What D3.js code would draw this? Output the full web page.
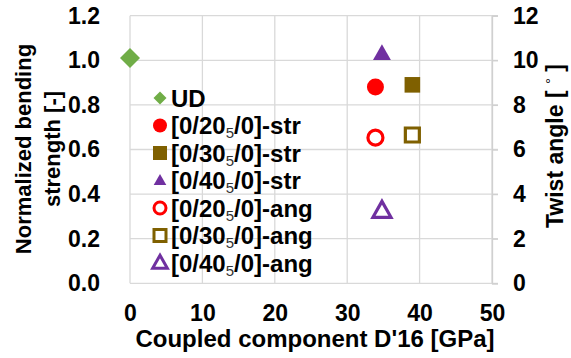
<!DOCTYPE html>
<html><head><meta charset="utf-8">
<script src="https://cdn.jsdelivr.net/npm/d3@7"></script>
<style>
body{margin:0;background:#fff;}
text{font-family:"Liberation Sans",Arial,sans-serif;font-weight:bold;fill:#000;}
</style></head>
<body><svg id="c" width="571" height="358"></svg>
<script>
// Data
const xTicks = [0,10,20,30,40,50];
const yLeftTicks = [0.0,0.2,0.4,0.6,0.8,1.0,1.2];
const yRightTicks = [0,2,4,6,8,10,12];
const seriesNames = ["UD","[0/20|5|/0]-str","[0/30|5|/0]-str","[0/40|5|/0]-str","[0/20|5|/0]-ang","[0/30|5|/0]-ang","[0/40|5|/0]-ang"];
const seriesX = [[0],[33.9],[39.0],[34.8],[33.9],[39.0],[34.8]];
const seriesY = [[1.01],[0.88],[0.89],[1.03],[6.53],[6.65],[3.25]];
const seriesAxis = ["left","left","left","left","right","right","right"];
const seriesColor = ["#70AD47","#FF0000","#7F6000","#7030A0","#FF0000","#7F6000","#7030A0"];
const seriesShape = ["diamond","circle","square","triangle","circle","square","triangle"];
const seriesFilled = [true,true,true,true,false,false,false];

const svg = d3.select("#c");
const L=130,R=492,T=15.7,B=283.3;
const x = d3.scaleLinear().domain([0,50]).range([L,R]);
const yL = d3.scaleLinear().domain([0,1.2]).range([B,T]);
const yR = d3.scaleLinear().domain([0,12]).range([B,T]);

// gridlines
const g = svg.append("g");
g.selectAll(".hg").data(yLeftTicks).enter().append("line")
 .attr("x1",L).attr("x2",R+6).attr("y1",d=>yL(d)).attr("y2",d=>yL(d))
 .attr("stroke","#d9d9d9").attr("stroke-width",1.3);
g.selectAll(".vg").data(xTicks).enter().append("line")
 .attr("x1",d=>x(d)).attr("x2",d=>x(d)).attr("y1",T).attr("y2",B)
 .attr("stroke","#d9d9d9").attr("stroke-width",1.3);

// axes via d3 axis
const fs = 23;
const axL = svg.append("g").attr("transform",`translate(${L},0)`)
 .call(d3.axisLeft(yL).tickValues(yLeftTicks).tickFormat(d3.format(".1f")).tickSize(0).tickPadding(30));
const axR = svg.append("g").attr("transform",`translate(${R},0)`)
 .call(d3.axisRight(yR).tickValues(yRightTicks).tickFormat(d3.format("d")).tickSize(6).tickPadding(15));
const axB = svg.append("g").attr("transform",`translate(0,${B})`)
 .call(d3.axisBottom(x).tickValues(xTicks).tickFormat(d3.format("d")).tickSize(0).tickPadding(21));
[axL,axB].forEach(a=>a.select(".domain").remove());
axR.select(".domain").attr("stroke","#d0d0d0").attr("stroke-width",1.3);
axR.selectAll(".tick line").attr("stroke","#d0d0d0").attr("stroke-width",1.3);
[axL,axR,axB].forEach(a=>{
 a.selectAll("text").attr("font-size",fs).style("font-family",'"Liberation Sans",Arial,sans-serif').style("font-weight","bold");});

// axis titles
svg.append("text").attr("transform","translate(31,149) rotate(-90)").attr("text-anchor","middle")
 .attr("font-size",22).text("Normalized bending");
svg.append("text").attr("transform","translate(60,149) rotate(-90)").attr("text-anchor","middle")
 .attr("font-size",22).text("strength [-]");
const rt = svg.append("text").attr("transform","translate(563,146) rotate(-90)").attr("text-anchor","middle")
 .attr("font-size",23);
rt.append("tspan").text("Twist angle [ ");
rt.append("tspan").attr("font-size",15).attr("dy",-7).attr("font-weight","normal").text("°");
rt.append("tspan").attr("dy",7).text(" ]");
svg.append("text").attr("x",315).attr("y",347).attr("text-anchor","middle")
 .attr("font-size",24).text("Coupled component D'16 [GPa]");

function shapePath(shape,s){
  if(shape==="diamond") return `M0,${-s}L${s},0L0,${s}L${-s},0Z`;
  if(shape==="circle") return d3.symbol(d3.symbolCircle, Math.PI*s*s)();
  if(shape==="square") return `M${-s},${-s}H${s}V${s}H${-s}Z`;
  if(shape==="triangle") return `M0,${-s*1.1}L${s*1.05},${s*0.75}L${-s*1.05},${s*0.75}Z`;
}
// data markers
const markSize = [10,8.5,7.8,8.5,7.5,7,8.6];
seriesNames.forEach((n,i)=>{
  const yy = seriesAxis[i]==="left"?yL:yR;
  svg.append("g").selectAll("path").data(seriesX[i].map((v,j)=>[v,seriesY[i][j]])).enter().append("path")
   .attr("transform",d=>`translate(${x(d[0])},${yy(d[1])})`)
   .attr("d",shapePath(seriesShape[i],markSize[i]))
   .attr("fill",seriesFilled[i]?seriesColor[i]:"#fff")
   .attr("stroke",seriesColor[i]).attr("stroke-width",seriesFilled[i]?0:3.2);
});

// legend
const legY0=98, legDy=27.5, legMx=160, legTx=171;
const legSize=[6.5,7,7,6,6,6,7];
seriesNames.forEach((n,i)=>{
  const yy = legY0+i*legDy;
  svg.append("path").attr("transform",`translate(${legMx},${yy})`)
   .attr("d",shapePath(seriesShape[i],legSize[i]))
   .attr("fill",seriesFilled[i]?seriesColor[i]:"#fff")
   .attr("stroke",seriesColor[i]).attr("stroke-width",seriesFilled[i]?0:3);
  const t = svg.append("text").attr("x",legTx).attr("y",yy+8.5).attr("font-size",24);
  const parts = n.split("|");
  parts.forEach((p,k)=>{
    if(k===1) t.append("tspan").attr("font-size",15).attr("dy",4).attr("font-weight","normal").style("fill","#333").text(p);
    else if(k===2) t.append("tspan").attr("dy",-4).text(p);
    else t.append("tspan").text(p);
  });
});
</script></body></html>
